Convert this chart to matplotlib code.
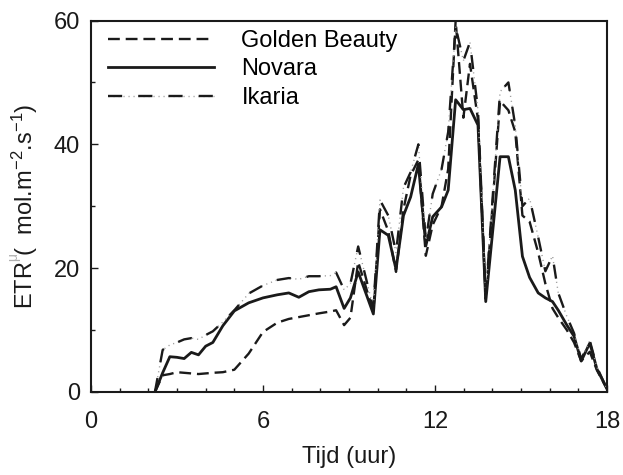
import matplotlib
matplotlib.use("Agg")
import matplotlib.pyplot as plt
from matplotlib.legend_handler import HandlerTuple
from matplotlib.ticker import MultipleLocator

plt.rcParams['font.family'] = ['Liberation Sans', 'DejaVu Sans']
plt.rcParams['mathtext.fontset'] = 'custom'
plt.rcParams['mathtext.rm'] = 'Liberation Sans'
plt.rcParams['mathtext.it'] = 'Liberation Sans:italic'

# Time of day (hours)
tijd = [2.23, 2.5, 2.75, 3.0, 3.25, 3.5, 3.75, 4.0, 4.25, 4.6, 5.0, 5.5, 6.0,
        6.5, 6.9, 7.25, 7.6, 7.95, 8.35, 8.55, 8.83, 9.05, 9.32, 9.85, 10.08,
        10.37, 10.64, 10.9, 11.15, 11.42, 11.68, 11.92, 12.23, 12.46, 12.72,
        12.99, 13.22, 13.5, 13.77, 14.27, 14.56, 14.8, 15.05, 15.3, 15.6,
        15.85, 16.1, 16.3, 16.6, 16.85, 17.1, 17.4, 17.65, 18.0]

golden_beauty = [0, 2.7, 2.9, 3.2, 3.1, 3.0, 2.9, 3.0, 3.1, 3.2, 3.6, 6.2, 9.7,
                 11.2, 11.8, 12.1, 12.4, 12.7, 13.0, 13.2, 10.8, 12.0, 21.0, 13.0,
                 29.5, 26.0, 19.4, 29.5, 35.0, 37.5, 22.0, 27.0, 30.0, 36.0, 60.0,
                 44.3, 53.0, 44.0, 15.0, 47.0, 45.5, 42.0, 28.5, 27.5, 22.5,
                 17.5, 13.5, 12.0, 10.0, 8.0, 5.0, 6.5, 3.5, 0.5]

novara = [0, 3.1, 5.7, 5.6, 5.4, 6.4, 6.0, 7.4, 8.0, 10.7, 13.1, 14.4, 15.2,
          15.7, 16.0, 15.3, 16.2, 16.5, 16.6, 17.0, 13.5, 15.2, 19.4, 12.6,
          26.2, 25.3, 19.8, 28.5, 31.5, 36.8, 23.6, 28.3, 29.9, 32.6, 47.2,
          45.6, 45.8, 43.1, 14.6, 38.0, 38.0, 32.6, 21.9, 18.5, 16.0,
          15.2, 14.6, 13.2, 10.8, 9.0, 5.0, 7.9, 3.7, 0.5]

ikaria = [0, 6.8, 7.6, 8.0, 8.5, 8.7, 8.5, 9.2, 9.8, 11.3, 13.2, 15.9, 17.2,
          18.1, 18.4, 18.2, 18.7, 18.7, 18.8, 19.3, 16.5, 17.5, 23.5, 13.5,
          31.0, 28.5, 22.5, 33.0, 35.5, 40.0, 24.5, 32.0, 36.0, 42.0, 59.0,
          53.5, 56.5, 45.5, 15.5, 48.5, 50.0, 43.0, 30.0, 31.3, 25.0,
          19.5, 22.0, 16.0, 12.2, 9.5, 5.3, 8.3, 4.0, 0.5]

x_ticks = [0, 6, 12, 18]
y_ticks = [0, 20, 40, 60]

FS = 17
INK = '#1a1a1a'

fig = plt.figure(figsize=(6.23, 4.75), dpi=100)
ax = fig.add_axes([91 / 623, 83 / 475, 516 / 623, 371.5 / 475])

lw = 1.7
l_gb, = ax.plot(tijd, golden_beauty, color=INK, lw=lw, dashes=(5, 2.5))
l_nov, = ax.plot(tijd, novara, color=INK, lw=lw + 0.3)
# Ikaria: faint dots underneath long black dashes
l_ik_dots, = ax.plot(tijd, ikaria, color='#9a9a9a', lw=1.0,
                     dashes=(0.8, 2.8))
l_ik, = ax.plot(tijd, ikaria, color=INK, lw=lw, dashes=(6.0, 6.8))

ax.set_xlim(0, 18)
ax.set_ylim(0, 60)
ax.set_xticks(x_ticks)
ax.set_yticks(y_ticks)
ax.xaxis.set_minor_locator(MultipleLocator(1))
ax.yaxis.set_minor_locator(MultipleLocator(10))
ax.tick_params(which='both', direction='in', top=False, right=False,
               labelsize=FS, colors=INK, width=1.0)
ax.tick_params(axis='x', which='major', length=5, pad=14)
ax.tick_params(axis='y', which='major', length=5, pad=8)
ax.tick_params(which='minor', length=3)
for s in ax.spines.values():
    s.set_linewidth(1.5)
    s.set_color(INK)

ax.set_xlabel('Tijd (uur)', fontsize=FS, color=INK, labelpad=9)
ax.set_ylabel('ETR (  mol.m$^{-2}$.s$^{-1}$)', fontsize=FS,
              color=INK, labelpad=10)

fig.canvas.draw()
# unit prefix drawn faint beside the opening bracket of the axis label
lab = ax.yaxis.label
bb = lab.get_window_extent()
fig.text((bb.x0 - 3) / 623, (475 - 257) / 475, 'μ', rotation=90,
         fontsize=10, color='#b0b0b0', ha='left', va='center')

ax.legend([l_gb, l_nov, (l_ik_dots, l_ik)],
          ['Golden Beauty', 'Novara', 'Ikaria'],
          handler_map={tuple: HandlerTuple(ndivide=1, pad=0)},
          loc='upper left', bbox_to_anchor=(0.033, 0.975),
          frameon=False, fontsize=FS, handlelength=4.5,
          handletextpad=1.15, labelspacing=0.28, borderpad=0,
          borderaxespad=0)

fig.savefig('out.png', dpi=100)
